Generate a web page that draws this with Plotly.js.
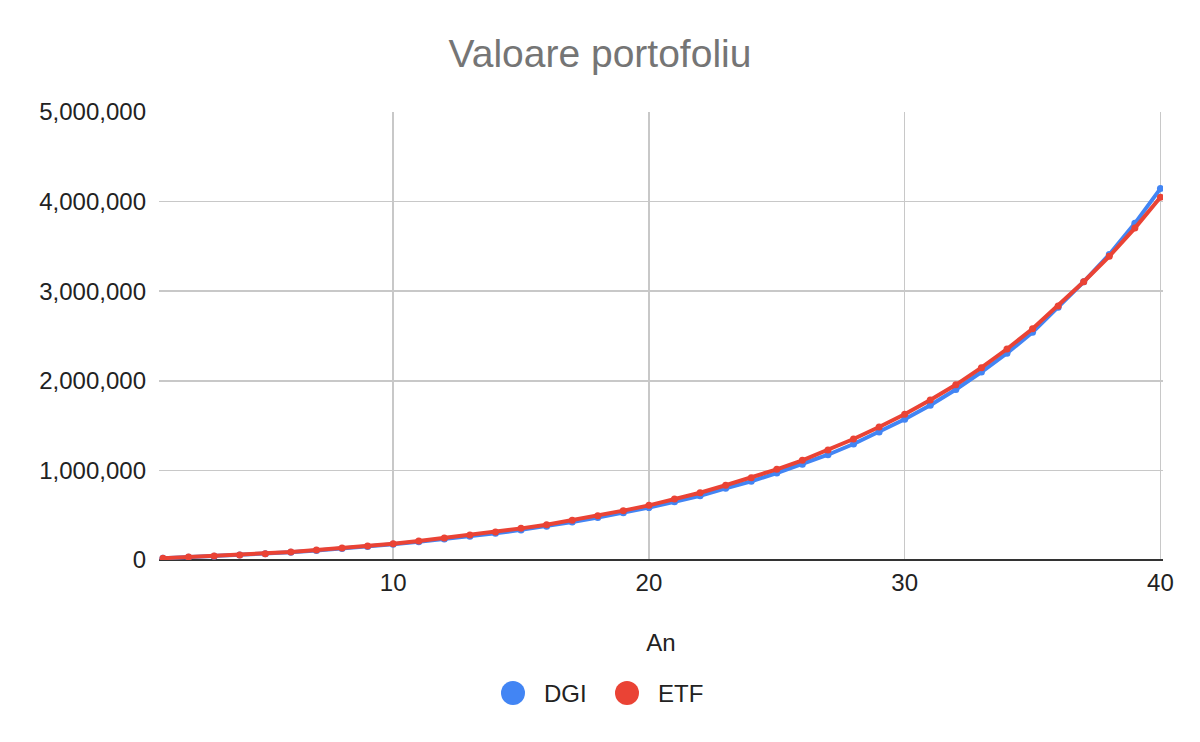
<!DOCTYPE html>
<html>
<head>
<meta charset="utf-8">
<script src="https://cdn.plot.ly/plotly-3.0.1.min.js"></script>
<style>html,body{margin:0;padding:0;background:#fff;}#chart{width:1200px;height:742px;}</style>
</head>
<body>
<div id="chart"></div>
<script>
const years = [1,2,3,4,5,6,7,8,9,10,11,12,13,14,15,16,17,18,19,20,21,22,23,24,25,26,27,28,29,30,31,32,33,34,35,36,37,38,39,40];
const dgi = [19000,31000,43000,55000,69000,86000,107000,128000,150000,175000,203000,233000,265000,298000,336000,376000,423000,474000,528000,585000,650000,716000,800000,878000,971000,1068000,1175000,1295000,1429000,1571000,1727000,1903000,2098000,2307000,2543000,2820000,3105000,3410000,3757000,4145000];
const etf = [20000,33000,45000,57000,71000,89000,111000,133000,156000,182000,212000,245000,279000,313000,353000,394000,443000,495000,551000,610000,680000,751000,834000,919000,1012000,1112000,1228000,1350000,1484000,1626000,1785000,1955000,2146000,2355000,2580000,2836000,3105000,3390000,3704000,4048000];
const seriesNames = ['DGI','ETF'];
const colors = ['#4285F4','#EA4335'];
const titleText = 'Valoare portofoliu';
const xTitle = 'An';
const yTicks = [0,1000000,2000000,3000000,4000000,5000000];

const FONT = 'Liberation Sans, Arial, sans-serif';
const traces = [dgi, etf].map((vals, i) => ({
  x: years, y: vals, name: seriesNames[i], type: 'scatter', mode: 'lines+markers',
  line: {color: colors[i], width: 4},
  marker: {color: colors[i], size: 7},
  showlegend: false, hoverinfo: 'x+y+name'
}));

// legend drawn with shapes + annotations (plotly caps legend marker size)
const L = 159, R = 1163, T = 112, B = 560;
const px = v => (v - L) / (R - L);
const py = v => (B - v) / (B - T);
const legendItems = [{cx: 513, tx: 542}, {cx: 627, tx: 656}];
const legendY = 693, rad = 12;
const shapes = legendItems.map((it, i) => ({
  type: 'circle', xref: 'paper', yref: 'paper',
  x0: px(it.cx - rad), x1: px(it.cx + rad), y0: py(legendY + rad), y1: py(legendY - rad),
  fillcolor: colors[i], line: {width: 0}
}));
const annotations = legendItems.map((it, i) => ({
  xref: 'paper', yref: 'paper', x: px(it.tx), y: py(legendY), xanchor: 'left', yanchor: 'middle',
  text: seriesNames[i], showarrow: false, font: {family: FONT, size: 24, color: '#222'}
}));

const layout = {
  width: 1200, height: 742,
  margin: {l: L, r: 1200 - R, t: T, b: 742 - B, pad: 0},
  paper_bgcolor: '#fff', plot_bgcolor: '#fff',
  title: {text: titleText, x: 0.5, xref: 'container', xanchor: 'center', y: 1 - 53/742, yref: 'container', yanchor: 'middle',
          font: {family: FONT, size: 39, color: '#757575'}},
  showlegend: false,
  xaxis: {
    range: [0.845, 40.1], tick0: 0, dtick: 10, showgrid: true, gridcolor: '#c8c8c8', gridwidth: 1.5,
    zeroline: false, showline: false, ticks: '', ticklabelstandoff: 6,
    tickfont: {family: FONT, size: 24, color: '#222'},
    title: {text: xTitle, font: {family: FONT, size: 24, color: '#222'}, standoff: 39}
  },
  yaxis: {
    range: [0, 5000000], tickvals: yTicks, tickformat: ',d', showgrid: true, gridcolor: '#c8c8c8', gridwidth: 1.5,
    zeroline: true, zerolinecolor: '#333333', zerolinewidth: 2, ticks: '', ticklabelstandoff: 12,
    tickfont: {family: FONT, size: 24, color: '#222'}
  },
  shapes: shapes, annotations: annotations
};
Plotly.newPlot('chart', traces, layout, {displayModeBar: false, staticPlot: true});
</script>
</body>
</html>
